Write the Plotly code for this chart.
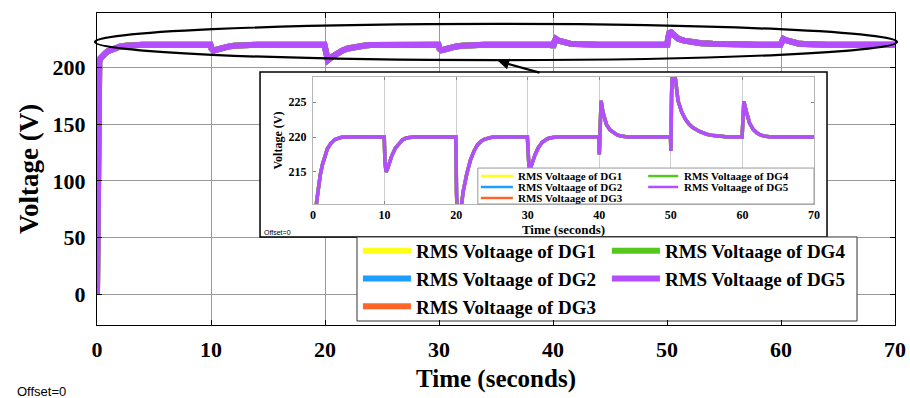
import plotly.graph_objects as go

# ---------------- data ----------------
time_s = [0, 0.05, 0.1, 0.15, 0.2, 0.3, 0.5, 0.8, 1.0, 1.3, 1.6, 2.0, 2.5, 3.0, 3.5, 4.0, 5.0,
          9.95, 10.05, 10.2, 10.4, 10.7, 11.0, 11.5, 12.0, 12.5, 13.0, 14.0,
          19.95, 20.05, 20.25, 20.5, 20.8, 21.0, 21.5, 22.0, 22.5, 23.0, 23.5, 24.0, 25.0, 26.0,
          29.95, 30.05, 30.2, 30.4, 30.7, 31.0, 31.5, 32.0, 32.5, 33.0, 34.0,
          39.95, 40.0, 40.1, 40.25, 40.5, 40.8, 41.0, 41.5, 42.0, 42.5, 43.0, 44.0,
          49.95, 50.0, 50.1, 50.25, 50.5, 50.8, 51.0, 51.5, 52.0, 52.5, 53.0, 54.0, 55.0, 56.0, 57.0, 58.0,
          59.95, 60.05, 60.2, 60.5, 60.8, 61.0, 61.5, 62.0, 62.5, 63.0, 64.0, 70.0]
rms_voltage = [0, 90, 170, 200, 205, 208, 210.7, 213.2, 214.5, 216, 217.2, 218.3, 219.1, 219.6, 219.8, 219.95, 220,
               220, 216.5, 215.0, 215.4, 216.4, 217.3, 218.4, 219.1, 219.6, 219.85, 220,
               220, 212, 206.5, 208.5, 210.8, 212.3, 214.8, 216.7, 218, 218.9, 219.4, 219.7, 219.95, 220,
               220, 216.5, 215.2, 215.6, 216.6, 217.4, 218.5, 219.2, 219.6, 219.85, 220,
               220, 217.5, 222, 225.2, 223.6, 222.4, 221.8, 221.0, 220.6, 220.3, 220.15, 220,
               220, 218, 226, 232, 229.5, 226.5, 225.2, 223.6, 222.6, 221.9, 221.4, 220.8, 220.4, 220.2, 220.05, 220,
               220, 222.5, 225.1, 223.8, 222.6, 222.0, 221.1, 220.6, 220.3, 220.15, 220, 220]

series_names = ["RMS Voltaage of DG1", "RMS Voltaage of DG2", "RMS Voltaage of DG3",
                "RMS Voltaage of DG4", "RMS Voltaage of DG5"]
series_values = [rms_voltage, rms_voltage, rms_voltage, rms_voltage, rms_voltage]
series_colors = ["#FFFF1A", "#1E9EFF", "#FF6428", "#55C81E", "#B44CFF"]

x_ticks = [0, 10, 20, 30, 40, 50, 60, 70]
y_ticks = [0, 50, 100, 150, 200]
inset_y_ticks = [215, 220, 225]

X_RANGE = [0, 70]
Y_RANGE = [-27, 248]
INSET_Y_RANGE = [210.4, 228.6]

SERIF = "Liberation Serif"
SANS = "Liberation Sans"

fig = go.Figure()

# main traces
for i, (name, vals, col) in enumerate(zip(series_names, series_values, series_colors)):
    fig.add_trace(go.Scatter(
        x=time_s, y=vals, mode="lines", name=name,
        line=dict(color=col, width=6),
        legend="legend" if i < 3 else "legend2",
        xaxis="x", yaxis="y"))

# inset traces
for name, vals, col in zip(series_names, series_values, series_colors):
    fig.add_trace(go.Scatter(
        x=time_s, y=vals, mode="lines", name=name,
        line=dict(color=col, width=3.5), showlegend=False,
        xaxis="x2", yaxis="y2"))

bold = dict(family=SERIF, color="black", weight="bold")

fig.update_layout(
    width=910, height=398,
    margin=dict(l=97, r=15, t=13, b=73),
    paper_bgcolor="white", plot_bgcolor="white",
    xaxis=dict(range=X_RANGE, tickvals=x_ticks, showgrid=True, gridcolor="#9a9a9a", gridwidth=1,
               zeroline=False, showline=True, linecolor="black", linewidth=1, mirror="all",
               ticks="inside", ticklen=5, tickcolor="black", automargin=False,
               tickfont=dict(size=22, **bold), ticklabelstandoff=5,
               title=dict(text="Time (seconds)", font=dict(size=25, **bold), standoff=8)),
    yaxis=dict(range=Y_RANGE, tickvals=y_ticks, showgrid=True, gridcolor="#9a9a9a", gridwidth=1,
               zeroline=False, showline=True, linecolor="black", linewidth=1, mirror="all",
               ticks="inside", ticklen=5, tickcolor="black", automargin=False,
               tickfont=dict(size=22, **bold), ticklabelstandoff=6,
               title=dict(text="Voltage (V)", font=dict(size=27, **bold), standoff=6)),
    xaxis2=dict(domain=[0.2707, 0.8985], anchor="y2", range=X_RANGE, tickvals=x_ticks,
                showgrid=True, gridcolor="#cfcfcf", zeroline=False, automargin=False,
                showline=True, linecolor="#b5b5b5", linewidth=1, mirror="all",
                ticks="inside", ticklen=3, tickcolor="#888",
                tickfont=dict(size=12, **bold), ticklabelstandoff=0,
                title=dict(text="Time (seconds)", font=dict(size=13, **bold), standoff=0)),
    yaxis2=dict(domain=[0.3878, 0.7949], anchor="x2", range=INSET_Y_RANGE, tickvals=inset_y_ticks,
                showgrid=False, zeroline=False, automargin=False,
                showline=True, linecolor="#b5b5b5", linewidth=1, mirror="all",
                ticks="inside", ticklen=3, tickcolor="#888",
                tickfont=dict(size=12, **bold), ticklabelstandoff=3,
                title=dict(text="Voltage (V)", font=dict(size=12, **bold), standoff=3)),
    legend=dict(x=0.327, y=0.298, xanchor="left", yanchor="top", bgcolor="rgba(0,0,0,0)",
                borderwidth=0, itemwidth=48, font=dict(size=19, **bold), tracegroupgap=0),
    legend2=dict(x=0.639, y=0.298, xanchor="left", yanchor="top", bgcolor="rgba(0,0,0,0)",
                 borderwidth=0, itemwidth=48, font=dict(size=19, **bold), tracegroupgap=0),
    showlegend=True,
)


def dx(f):
    """main-plot fraction -> x data position (for layout boxes)"""
    return X_RANGE[0] + f * (X_RANGE[1] - X_RANGE[0])


def dy(f):
    return Y_RANGE[0] + f * (Y_RANGE[1] - Y_RANGE[0])


shapes = []
# inset white box (main subplot 'between' layer: above main grid, below inset)
shapes.append(dict(type="rect", xref="x", yref="y", layer="between",
                   x0=dx(0.2043), x1=dx(0.9148), y0=dy(0.2821), y1=dy(0.8109),
                   fillcolor="white", line=dict(color="black", width=1.5)))
# main legend box
shapes.append(dict(type="rect", xref="x", yref="y", layer="between",
                   x0=dx(0.3258), x1=dx(0.9524), y0=dy(0.0128), y1=dy(0.2821),
                   fillcolor="white", line=dict(color="#333", width=1)))
# ellipse highlighting the steady region
shapes.append(dict(type="circle", xref="paper", yref="paper", layer="above",
                   x0=-0.0025, x1=1.0025, y0=0.849, y1=0.965,
                   line=dict(color="black", width=2.2)))
# inset legend (drawn manually)
shapes.append(dict(type="rect", xref="paper", yref="paper", layer="above",
                   x0=0.2707 + 0.329 * 0.6278, x1=0.2707 + 1.0 * 0.6278,
                   y0=0.3878, y1=0.3878 + 0.283 * 0.4071,
                   fillcolor="white", line=dict(color="#999", width=1)))
inset_rows = [0.220, 0.134, 0.047]
inset_pos = [(0.335, 0.399, 0.405, inset_rows[0]), (0.335, 0.399, 0.405, inset_rows[1]),
             (0.335, 0.399, 0.405, inset_rows[2]), (0.669, 0.729, 0.737, inset_rows[0]),
             (0.669, 0.729, 0.737, inset_rows[1])]
annotations = []
for (lx0, lx1, tx, ry), name, col in zip(inset_pos, series_names, series_colors):
    px = lambda f: 0.2707 + f * 0.6278
    py = 0.3878 + ry * 0.4071
    shapes.append(dict(type="line", xref="paper", yref="paper", layer="above",
                       x0=px(lx0), x1=px(lx1), y0=py, y1=py, line=dict(color=col, width=2.5)))
    annotations.append(dict(xref="paper", yref="paper", x=px(tx), y=py, text=name,
                            showarrow=False, xanchor="left", yanchor="middle",
                            font=dict(size=11, **bold)))

annotations.append(dict(xref="paper", yref="paper", x=0.5025, y=0.846, ax=43, ay=12,
                        text="", showarrow=True, arrowhead=2, arrowsize=1, arrowwidth=2.2,
                        arrowcolor="black"))
annotations.append(dict(xref="paper", yref="paper", x=-0.1028, y=-0.214, text="Offset=0",
                        showarrow=False, xanchor="left", yanchor="middle",
                        font=dict(family=SANS, size=13, color="black")))
annotations.append(dict(xref="paper", yref="paper", x=0.2068, y=0.298, text="Offset=0",
                        showarrow=False, xanchor="left", yanchor="middle",
                        font=dict(family=SANS, size=7, color="black")))

fig.update_layout(shapes=shapes, annotations=annotations)

fig.write_html("out.html")
